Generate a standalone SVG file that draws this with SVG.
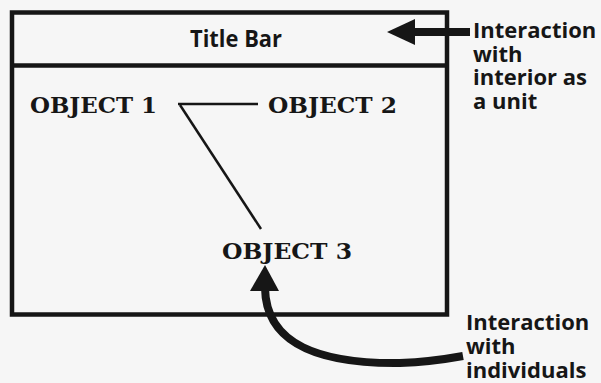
<svg xmlns="http://www.w3.org/2000/svg" width="601" height="383" viewBox="0 0 601 383">
<style>
.frame{fill:none;stroke:#161616;stroke-width:4.5}
.obj{font-family:"DejaVu Serif","Liberation Serif",serif;font-weight:bold;font-size:22px;fill:#161616}
.lbl{font-family:"Open Sans","Noto Sans","Liberation Sans",sans-serif;font-weight:bold;font-size:22px;fill:#161616}
.title{font-size:23px}
.link{stroke:#161616;stroke-width:2.5;fill:none;stroke-linecap:butt}
.shaft{stroke:#161616;stroke-width:8;fill:none}
.head{fill:#161616}
</style>
<rect x="0" y="0" width="601" height="383" fill="#f6f6f6"/>
<g id="window">
<rect class="frame" x="12" y="12.5" width="435" height="302"/>
<line class="frame" x1="12" y1="65.5" x2="447" y2="65.5"/>
</g>
<g id="title-bar">
<text class="lbl title" x="190" y="47" textLength="92" lengthAdjust="spacingAndGlyphs">Title Bar</text>
</g>
<g id="object1">
<text class="obj" x="30" y="113" textLength="127" lengthAdjust="spacingAndGlyphs">OBJECT 1</text>
</g>
<g id="object2">
<text class="obj" x="268" y="113" textLength="129" lengthAdjust="spacingAndGlyphs">OBJECT 2</text>
</g>
<g id="object3">
<text class="obj" x="222" y="259" textLength="130" lengthAdjust="spacingAndGlyphs">OBJECT 3</text>
</g>
<g id="label-unit">
<text class="lbl" x="473" y="38">Interaction</text>
<text class="lbl" x="473" y="62">with</text>
<text class="lbl" x="473" y="85">interior as</text>
<text class="lbl" x="473" y="109">a unit</text>
</g>
<g id="label-individuals">
<text class="lbl" x="466" y="330">Interaction</text>
<text class="lbl" x="466" y="354">with</text>
<text class="lbl" x="466" y="378">individuals</text>
</g>
<g id="connectors">
<line class="link" x1="178" y1="104" x2="258" y2="104"/>
<line class="link" x1="180" y1="105" x2="261" y2="229"/>
<line class="shaft" x1="412" y1="32" x2="470" y2="32"/>
<polygon class="head" points="387,32 415,19 415,45"/>
<path class="shaft" d="M463 356 Q430 362 400 363 C320 364 266 345 265 288"/>
<polygon class="head" points="265,265 250,291 279,291"/>
</g>
</svg>
